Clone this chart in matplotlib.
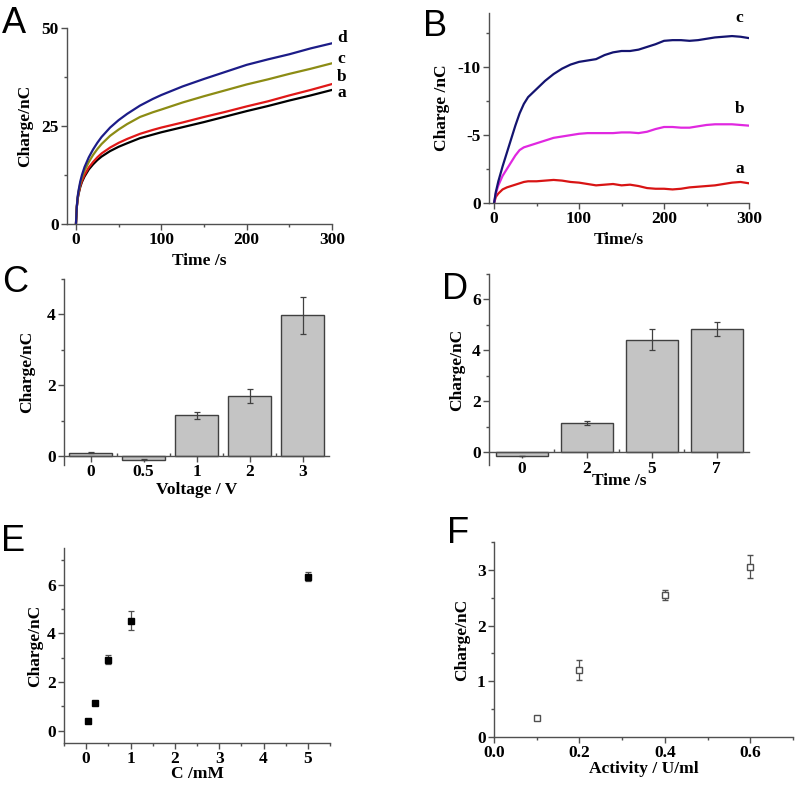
import matplotlib
matplotlib.use("Agg")
import matplotlib.pyplot as plt
from matplotlib.ticker import MultipleLocator, FixedLocator
import numpy as np

# ---------------- data ----------------
# Panel A
tA = [0, 1, 2, 3, 5, 7, 10, 15, 20, 25, 30, 40, 50, 60, 75, 90, 100, 125, 150, 175, 200, 225, 250, 275, 300]
A_d = [0, 4.5, 7, 8.5, 10.8, 12.5, 14.5, 17, 19, 20.7, 22.2, 24.6, 26.5, 28.1, 30.2, 31.9, 32.9, 35.1, 37,
       38.8, 40.6, 42, 43.3, 44.8, 46.1]
A_c = [0, 4.5, 6.8, 8.2, 10.3, 11.8, 13.6, 15.8, 17.6, 19.1, 20.4, 22.5, 24.1, 25.5, 27.3, 28.5, 29.2, 31,
       32.6, 34.1, 35.6, 36.9, 38.3, 39.6, 41]
A_b = [0, 4.3, 6.5, 7.8, 9.7, 11, 12.5, 14.4, 15.8, 17, 18, 19.5, 20.7, 21.7, 23, 24, 24.6, 25.9, 27.3,
       28.6, 30, 31.3, 32.8, 34.2, 35.7]
A_a = [0, 4.3, 6.4, 7.6, 9.4, 10.7, 12.1, 13.9, 15.2, 16.3, 17.2, 18.6, 19.7, 20.6, 21.9, 22.8, 23.4, 24.7,
       26, 27.4, 28.8, 30.1, 31.5, 32.8, 34.2]

# Panel B (charge is negative)
tB = [0, 2, 5, 10, 15, 20, 25, 30, 35, 40, 50, 60, 70, 80, 90, 100, 110, 120, 130, 140, 150, 160, 170,
      180, 190, 200, 210, 220, 230, 240, 250, 260, 270, 280, 290, 300]
B_c = [0, -0.8, -1.6, -2.7, -3.7, -4.7, -5.7, -6.6, -7.3, -7.8, -8.4, -9.0, -9.5, -9.9, -10.2, -10.4,
       -10.5, -10.6, -10.9, -11.1, -11.2, -11.2, -11.3, -11.5, -11.7, -11.95, -12.0, -12.0, -11.95,
       -12.0, -12.1, -12.2, -12.25, -12.3, -12.25, -12.15]
B_b = [0, -0.7, -1.3, -2.0, -2.5, -3.0, -3.5, -3.9, -4.1, -4.2, -4.4, -4.6, -4.8, -4.9, -5.0, -5.1,
       -5.15, -5.15, -5.15, -5.15, -5.2, -5.2, -5.15, -5.25, -5.45, -5.6, -5.6, -5.55, -5.55, -5.65,
       -5.75, -5.8, -5.8, -5.8, -5.75, -5.7]
B_a = [0, -0.45, -0.7, -1.0, -1.15, -1.25, -1.35, -1.45, -1.55, -1.6, -1.6, -1.65, -1.7, -1.65, -1.55,
       -1.5, -1.4, -1.3, -1.35, -1.4, -1.3, -1.35, -1.25, -1.1, -1.05, -1.05, -1.0, -1.05, -1.15, -1.2,
       -1.25, -1.3, -1.4, -1.5, -1.55, -1.45]

# Panel C
C_labels = ["0", "0.5", "1", "2", "3"]
C_vals = [0.1, -0.1, 1.15, 1.7, 3.98]
C_err = [0.01, 0.01, 0.1, 0.19, 0.52]

# Panel D
D_labels = ["0", "2", "5", "7"]
D_vals = [-0.15, 1.15, 4.42, 4.85]
D_err = [0.01, 0.09, 0.42, 0.27]

# Panel E
E_x = [0.05, 0.2, 0.5, 1.0, 5.0]
E_y = [0.42, 1.15, 2.92, 4.52, 6.33]
E_err = [0.05, 0.05, 0.18, 0.4, 0.2]

# Panel F
F_x = [0.1, 0.2, 0.4, 0.6]
F_y = [0.34, 1.2, 2.55, 3.06]
F_err = [0.02, 0.18, 0.09, 0.2]

# ---------------- style ----------------
W, H = 796, 786
plt.rcParams['font.family'] = ['Liberation Serif', 'DejaVu Serif']
plt.rcParams['font.weight'] = 'bold'
fig = plt.figure(figsize=(W / 100, H / 100), dpi=100)
SPINE = '#505050'
TICKFS = 12.5
LABFS = 12.5


def make_ax(l, r, t, b):
    ax = fig.add_axes([l / W, 1 - b / H, (r - l) / W, (b - t) / H])
    for s in ['top', 'right']:
        ax.spines[s].set_visible(False)
    for s in ['left', 'bottom']:
        ax.spines[s].set_color(SPINE)
        ax.spines[s].set_linewidth(1.0)
    ax.tick_params(which='both', direction='out', color=SPINE, width=1.0)
    ax.tick_params(which='major', length=4, labelsize=TICKFS, pad=2)
    ax.tick_params(which='minor', length=2.5)
    return ax


def finish(ax, l, r, t, b, xlabel, xl_top, ylabel, yl_right):
    ax.set_xlabel(xlabel, fontsize=LABFS, fontweight='bold')
    ax.set_ylabel(ylabel, fontsize=LABFS, fontweight='bold')
    ax.xaxis.set_label_coords(0.5, (b - xl_top) / (b - t))
    ax.yaxis.set_label_coords((yl_right - l) / (r - l), 0.5)


def letter(ch, px, py):
    fig.text(px / W, 1 - py / H, ch, fontsize=26, family='Liberation Sans', fontweight='normal',
             ha='left', va='top')


# ---------------- Panel A ----------------
l, r, t, b = 67, 332, 28, 224
ax = make_ax(l, r, t, b)
ax.plot(tA, A_a, color='black', lw=1.6)
ax.plot(tA, A_b, color='#e01818', lw=1.6)
ax.plot(tA, A_c, color='#8c8c14', lw=1.6)
ax.plot(tA, A_d, color='#1c1c88', lw=1.6)
ax.set_xlim(-10.5, 300)
ax.set_ylim(0, 50)
ax.xaxis.set_major_locator(MultipleLocator(100))
ax.xaxis.set_minor_locator(MultipleLocator(50))
ax.yaxis.set_major_locator(MultipleLocator(25))
ax.yaxis.set_minor_locator(MultipleLocator(12.5))
for txt, yv in zip(['d', 'c', 'b', 'a'], [47.4, 42.0, 37.4, 33.4]):
    ax.text(306, yv, txt, fontsize=12.5, fontweight='bold', ha='left', va='center', clip_on=False)
finish(ax, l, r, t, b, 'Time /s', 253, 'Charge/nC', 33)
letter('A', 2, 6)

# ---------------- Panel B ----------------
l, r, t, b = 489, 749, 13, 203
ax = make_ax(l, r, t, b)
ax.plot(tB, B_a, color='#d81414', lw=1.6)
ax.plot(tB, B_b, color='#e028e0', lw=1.6)
ax.plot(tB, B_c, color='#141470', lw=1.6)
ax.set_xlim(-6, 300)
ax.set_ylim(0, -14)
ax.xaxis.set_major_locator(MultipleLocator(100))
ax.xaxis.set_minor_locator(MultipleLocator(50))
ax.yaxis.set_major_locator(FixedLocator([0, -5, -10]))
ax.yaxis.set_minor_locator(FixedLocator([-2.5, -7.5, -12.5]))
ax.yaxis.set_major_formatter(plt.FuncFormatter(lambda v, p: '%d' % v))
for txt, yv in zip(['c', 'b', 'a'], [-13.6, -6.9, -2.5]):
    ax.text(289, yv, txt, fontsize=12.5, fontweight='bold', ha='center', va='center', clip_on=False)
finish(ax, l, r, t, b, 'Time/s', 232, 'Charge /nC', 450)
letter('B', 423, 9)


# ---------------- Panel C / D ----------------
def bar_panel(l, r, t, b, labels, vals, errs, ylim, ymaj, ymin, xlabel, xl_top, yl_right):
    ax = make_ax(l, r, t, b)
    xs = np.arange(len(labels))
    ax.bar(xs, vals, width=0.8, color='#c4c4c4', edgecolor='#404040', linewidth=1.0, zorder=2)
    ax.errorbar(xs, vals, yerr=errs, fmt='none', ecolor='#404040', elinewidth=0.9,
                capsize=2.5, capthick=0.9, zorder=3)
    ax.set_xlim(-0.5, len(labels) - 0.5)
    ax.set_ylim(*ylim)
    ax.spines['bottom'].set_position(('data', 0))
    ax.spines['bottom'].set_zorder(4)
    ax.set_xticks(xs)
    ax.set_xticklabels(labels)
    ax.xaxis.set_minor_locator(FixedLocator(xs[:-1] + 0.5))
    ax.tick_params(axis='x', which='minor', direction='in', length=2)
    ax.yaxis.set_major_locator(MultipleLocator(ymaj))
    ax.yaxis.set_minor_locator(MultipleLocator(ymin))
    finish(ax, l, r, t, b, xlabel, xl_top, 'Charge/nC', yl_right)
    return ax


bar_panel(64, 329, 279, 465, C_labels, C_vals, C_err, (-0.25, 5.0), 2, 1,
          'Voltage / V', 482, 35)
letter('C', 2, 265)

bar_panel(489, 749, 274, 465, D_labels, D_vals, D_err, (-0.5, 7.0), 2, 1,
          'Time /s', 473, 465)
letter('D', 442, 272)

# ---------------- Panel E ----------------
l, r, t, b = 64, 330, 548, 743
ax = make_ax(l, r, t, b)
ax.errorbar(E_x, E_y, yerr=E_err, fmt='s', color='black', ms=4.5, ecolor='#505050',
            elinewidth=0.9, capsize=2.5, capthick=0.9)
ax.set_xlim(-0.5, 5.5)
ax.set_ylim(-0.5, 7.5)
ax.xaxis.set_major_locator(MultipleLocator(1))
ax.xaxis.set_minor_locator(MultipleLocator(0.5))
ax.yaxis.set_major_locator(MultipleLocator(2))
ax.yaxis.set_minor_locator(MultipleLocator(1))
finish(ax, l, r, t, b, 'C /mM', 766, 'Charge/nC', 43)
letter('E', 1, 524)

# ---------------- Panel F ----------------
l, r, t, b = 494, 793, 542, 737
ax = make_ax(l, r, t, b)
ax.errorbar(F_x, F_y, yerr=F_err, fmt='s', mfc='white', mec='#505050', ms=4.5,
            mew=1.0, ecolor='#505050', elinewidth=0.9, capsize=2.5, capthick=0.9)
ax.set_xlim(0, 0.7)
ax.set_ylim(0, 3.5)
ax.xaxis.set_major_locator(FixedLocator([0.0, 0.2, 0.4, 0.6]))
ax.xaxis.set_minor_locator(FixedLocator([0.1, 0.3, 0.5, 0.7]))
ax.xaxis.set_major_formatter(plt.FuncFormatter(lambda v, p: '%.1f' % v))
ax.yaxis.set_major_locator(MultipleLocator(1))
ax.yaxis.set_minor_locator(MultipleLocator(0.5))
finish(ax, l, r, t, b, 'Activity / U/ml', 761, 'Charge/nC', 470)
letter('F', 447, 516)

fig.savefig('out.png', dpi=100)
